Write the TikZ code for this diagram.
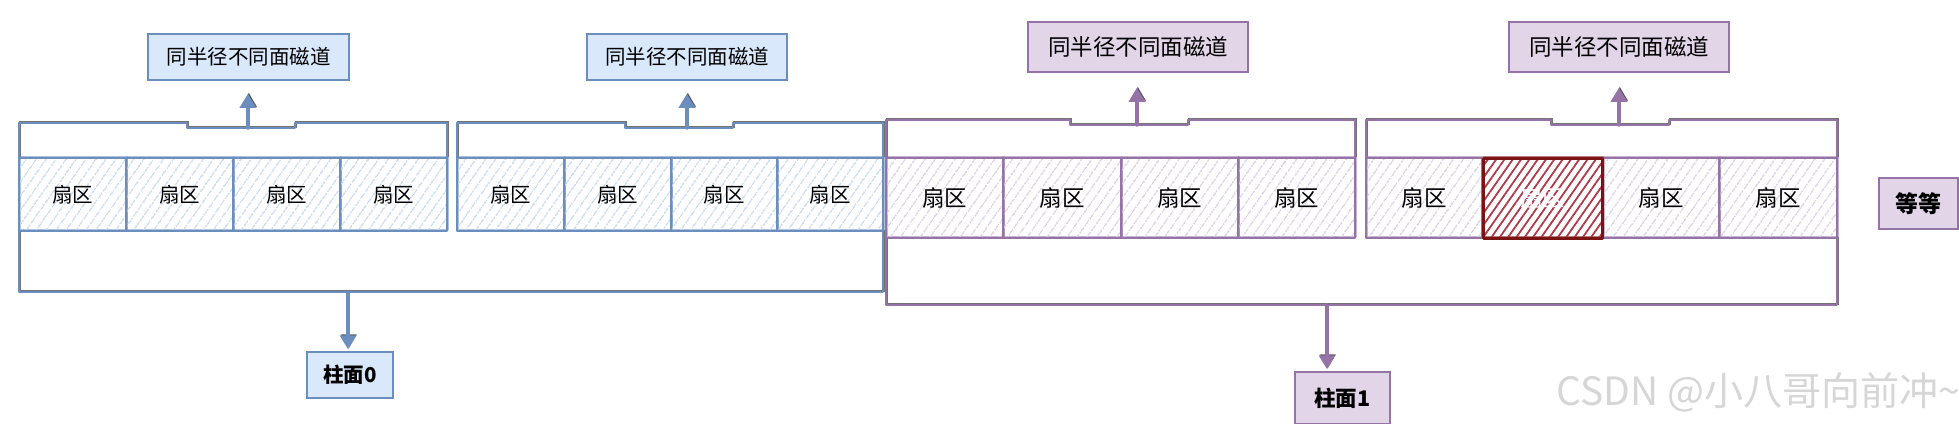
\documentclass[tikz,border=0pt]{standalone}
\usepackage{fontspec}
\newfontfamily\cjk{Noto Sans CJK SC}
\usetikzlibrary{arrows.meta,patterns.meta}
\definecolor{bstroke}{HTML}{6C8EBF}
\definecolor{bfill}{HTML}{DAE8FC}
\definecolor{bhatch}{HTML}{C4D6F0}
\definecolor{pstroke}{HTML}{9673A6}
\definecolor{pfill}{HTML}{E1D5E7}
\definecolor{phatch}{HTML}{D9CCE2}
\definecolor{rstroke}{HTML}{7A1414}
\definecolor{rhatch}{HTML}{B03A4A}

\begin{document}
\begin{tikzpicture}[x=0.5pt,y=-0.5pt,
  bfont/.style={font=\cjk\fontsize{10.25}{12}\selectfont},
  pfont/.style={font=\cjk\fontsize{11.25}{13}\selectfont},
  sketch/.style={line join=round,line cap=round,
    preaction={draw,line width=0.7pt,opacity=0.55,transform canvas={shift={(0.4pt,0.5pt)}}}},
  btrack/.style={draw=bstroke,line width=1.15pt,sketch},
  ptrack/.style={draw=pstroke,line width=1.15pt,sketch},
  bsec/.style={btrack,pattern={Lines[angle=55,distance=4pt,line width=0.6pt]},
    pattern color=bhatch,minimum height=36.5pt,inner sep=0pt,bfont},
  psec/.style={ptrack,pattern={Lines[angle=55,distance=4pt,line width=0.6pt]},
    pattern color=phatch,minimum height=40pt,inner sep=0pt,pfont},
  rsec/.style={draw=rstroke,line width=1.5pt,sketch,
    pattern={Lines[angle=55,distance=3.4pt,line width=0.9pt]},pattern color=rhatch,
    minimum height=40pt,inner sep=0pt,pfont,text=white},
  blabel/.style={draw=bstroke,fill=bfill,line width=0.75pt,inner sep=0pt,bfont},
  plabel/.style={draw=pstroke,fill=pfill,line width=0.75pt,inner sep=0pt,pfont},
  barrow/.style={draw=bstroke,line width=1.7pt,sketch,-{Triangle[length=7pt,width=8pt]}},
  parrow/.style={draw=pstroke,line width=1.7pt,sketch,-{Triangle[length=7pt,width=8pt]}}
]
\useasboundingbox (0,0) rectangle (1959,423);
\clip (0,0) rectangle (1959,423);

% ---------- cylinder 0 (blue) ----------
\draw[btrack] (19,231) -- (19,292) -- (883,292) -- (883,231);
\draw[btrack] (19,158) -- (19,123) -- (187,123) -- (187,128) -- (295,128) -- (295,123) -- (447,123) -- (447,158);
\draw[btrack] (457,158) -- (457,123) -- (625,123) -- (625,128) -- (733,128) -- (733,123) -- (883,123) -- (883,158);
\foreach \n/\a/\b in {a1/19/126,a2/126/233,a3/233/340,a4/340/447,
                      b1/457/564,b2/564/671,b3/671/777,b4/777/883}{
  \pgfmathsetmacro\c{(\a+\b)/2}
  \pgfmathsetmacro\w{(\b-\a)*0.5}
  \node[bsec,minimum width=\w pt] (\n) at (\c,194.5) {扇区};
}
\node[blabel,minimum width=100.5pt,minimum height=23pt] (lA) at (248.5,57) {同半径不同面磁道};
\node[blabel,minimum width=100pt,minimum height=23pt] (lB) at (687,57) {同半径不同面磁道};
\coordinate (tA) at (248,128);
\coordinate (tB) at (687,128);
\draw[barrow,shorten >=6.5pt] (tA) -- (tA |- lA.south);
\draw[barrow,shorten >=6.5pt] (tB) -- (tB |- lB.south);
\node[blabel,minimum width=43pt,minimum height=23pt,font=\cjk\bfseries\fontsize{10.25}{12}\selectfont] (cyl0) at (350,375) {柱面0};
\coordinate (c0) at (348,292);
\draw[barrow,shorten >=1pt] (c0) -- (c0 |- cyl0.north);

% ---------- cylinder 1 (purple) ----------
\draw[ptrack] (886,238) -- (886,305) -- (1837,305) -- (1837,238);
\draw[ptrack] (886,158) -- (886,120) -- (1070,120) -- (1070,125) -- (1188,125) -- (1188,120) -- (1355,120) -- (1355,158);
\draw[ptrack] (1366,158) -- (1366,120) -- (1551,120) -- (1551,125) -- (1669,125) -- (1669,120) -- (1837,120) -- (1837,158);
\foreach \n/\a/\b in {c1/886/1003,c2/1003/1121,c3/1121/1238,c4/1238/1355,
                      d1/1366/1482,d3/1603/1719,d4/1719/1837}{
  \pgfmathsetmacro\c{(\a+\b)/2}
  \pgfmathsetmacro\w{(\b-\a)*0.5}
  \node[psec,minimum width=\w pt] (\n) at (\c,198) {扇区};
}
\node[rsec,minimum width=59.5pt] (d2) at (1542.5,198) {扇区};
\node[plabel,minimum width=110pt,minimum height=25pt] (lC) at (1138,47) {同半径不同面磁道};
\node[plabel,minimum width=110pt,minimum height=25pt] (lD) at (1619,47) {同半径不同面磁道};
\coordinate (tC) at (1137,125);
\coordinate (tD) at (1619,125);
\draw[parrow,shorten >=7.5pt] (tC) -- (tC |- lC.south);
\draw[parrow,shorten >=7.5pt] (tD) -- (tD |- lD.south);
\node[plabel,minimum width=47.5pt,minimum height=26pt,font=\cjk\bfseries\fontsize{10.75}{12}\selectfont] (cyl1) at (1342.5,398) {柱面1};
\coordinate (c1) at (1327,305);
\draw[parrow,shorten >=1pt] (c1) -- (c1 |- cyl1.north);

\node[plabel,minimum width=39.5pt,minimum height=25.5pt,font=\cjk\bfseries\fontsize{11.5}{13}\selectfont] (etc) at (1918.5,203.5) {等等};

% ---------- watermark ----------
\node[anchor=west,inner sep=0pt,text=gray!32,font=\cjk\fontsize{19.5}{21}\selectfont] (wm) at (1556,392) {CSDN @小八哥向前冲\textasciitilde};
\end{tikzpicture}
\end{document}
